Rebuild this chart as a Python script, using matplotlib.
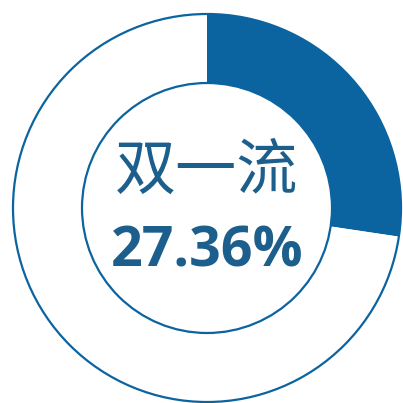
import matplotlib.pyplot as plt
from matplotlib.patches import Circle

plt.rcParams['font.family'] = ['Noto Sans CJK SC', 'DejaVu Sans']

# data
labels = ["双一流", "其他"]
shares = [27.36, 72.64]
title = "双一流"
value_text = "27.36%"

blue = "#0b64a0"

fig = plt.figure(figsize=(4.03, 4.03), dpi=100)
ax = fig.add_axes([0, 0, 1, 1])

cx, cy = 207, 195
r_out, r_in = 194, 125

ax.pie(shares, colors=[blue, "white"], startangle=90, counterclock=False,
       radius=r_out, center=(cx, cy), frame=True,
       wedgeprops=dict(width=r_out - r_in, linewidth=0))

# outline rings
ax.add_patch(Circle((cx, cy), r_out, fill=False, edgecolor=blue, linewidth=1.6))
ax.add_patch(Circle((cx, cy), r_in, fill=False, edgecolor=blue, linewidth=1.6))

ax.text(cx, 403 - 172, title, ha="center", va="center", fontsize=44,
        fontweight="light", color="#1d5f8c")
ax.text(cx, 403 - 252, value_text, ha="center", va="center", fontsize=40,
        fontweight="bold", color="#1d5f8c", family=["Open Sans", "DejaVu Sans"])

ax.set_xlim(0, 403)
ax.set_ylim(0, 403)
ax.set_aspect("equal")
ax.axis("off")

fig.savefig("out.png", dpi=100)
